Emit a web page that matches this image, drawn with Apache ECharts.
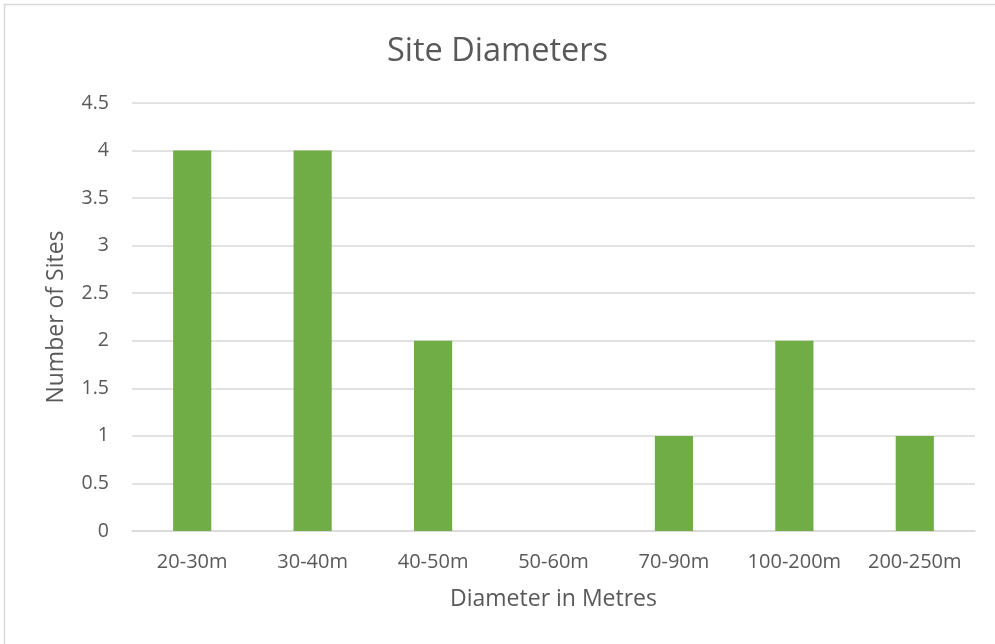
<!DOCTYPE html>
<html>
<head>
<meta charset="utf-8">
<script src="https://cdn.jsdelivr.net/npm/echarts@6/dist/echarts.min.js"></script>
<style>
  html, body { margin: 0; padding: 0; background: #fff; }
  #chart { width: 995px; height: 644px; }
</style>
</head>
<body>
<div id="chart"></div>
<script>
// Site counts per diameter range
const categories = ['20-30m', '30-40m', '40-50m', '50-60m', '70-90m', '100-200m', '200-250m'];
const siteCounts = [4, 4, 2, 0, 1, 2, 1];
const yTicks = { min: 0, max: 4.5, interval: 0.5 };

const FONT = '"Open Sans", "Liberation Sans", sans-serif';
const TEXT = '#595959';

const chart = echarts.init(document.getElementById('chart'));
chart.setOption({
  backgroundColor: '#ffffff',
  animation: false,
  graphic: [{
    type: 'rect',
    shape: { x: 4.5, y: 4.5, width: 1000, height: 1000 },
    style: { fill: 'none', stroke: '#d9d9d9', lineWidth: 1.5 },
    silent: true
  }],
  title: {
    text: 'Site Diameters',
    left: 'center',
    top: 30,
    textStyle: { fontFamily: FONT, fontSize: 32.5, fontWeight: 'normal', color: TEXT }
  },
  grid: { left: 132, right: 20, top: 103, bottom: 113, containLabel: false },
  xAxis: {
    type: 'category',
    data: categories,
    name: 'Diameter in Metres',
    nameLocation: 'middle',
    nameGap: 57,
    nameTextStyle: { fontFamily: FONT, fontSize: 23, color: TEXT },
    axisLine: { lineStyle: { color: '#d9d9d9', width: 1.5 } },
    axisTick: { show: false },
    axisLabel: { interval: 0, fontFamily: FONT, fontSize: 20, color: TEXT, margin: 21 }
  },
  yAxis: {
    type: 'value',
    min: yTicks.min,
    max: yTicks.max,
    interval: yTicks.interval,
    name: 'Number of Sites',
    nameLocation: 'middle',
    nameGap: 64,
    nameRotate: 90,
    nameTextStyle: { fontFamily: FONT, fontSize: 23, color: TEXT },
    axisLine: { show: false },
    axisTick: { show: false },
    splitLine: { lineStyle: { color: '#d9d9d9', width: 1.5 } },
    axisLabel: { fontFamily: FONT, fontSize: 19.5, color: TEXT, margin: 23 }
  },
  series: [{
    type: 'bar',
    data: siteCounts,
    barWidth: '31.7%',
    itemStyle: { color: '#70ad47' }
  }]
});
</script>
</body>
</html>
